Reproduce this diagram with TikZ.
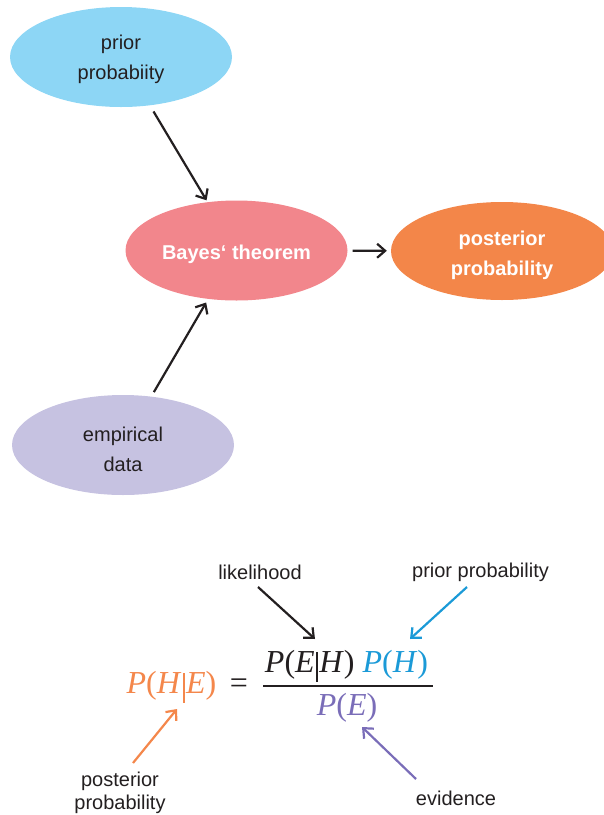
\documentclass[tikz,border=0pt]{standalone}
\usepackage{fontspec}
\setmainfont{Liberation Sans}
\newfontfamily\formfont{Liberation Serif}
\usetikzlibrary{arrows.meta,shapes.geometric,calc}
\definecolor{skyfill}{HTML}{8DD6F5}
\definecolor{pinkfill}{HTML}{F2868C}
\definecolor{orangefill}{HTML}{F38649}
\definecolor{lavfill}{HTML}{C6C2E1}
\definecolor{inkc}{HTML}{231F20}
\definecolor{formorange}{HTML}{F4874B}
\definecolor{formblue}{HTML}{1B9AD7}
\definecolor{formpurple}{HTML}{7A6DB8}
\newcommand\vit[1]{\textit{#1}}
\newcommand\vbar{\kern1.5pt\rule[-0.3em]{1.7pt}{0.93em}\kern1.5pt}
\newcommand\shiftlines[2]{\raisebox{-#1}[\height][\depth]{\begin{tabular}{@{}c@{}}#2\end{tabular}}}
\tikzset{
  blob/.style={ellipse, minimum width=222pt, minimum height=100pt, inner sep=0pt,
    align=center, font=\fontsize{20}{30}\selectfont, text=inkc},
  whiteblob/.style={blob, text=white, font=\fontsize{20}{30}\selectfont\bfseries},
  conn/.style={line width=2.2pt, draw=inkc, -{Straight Barb[length=8pt,width=14pt]}},
  lbl/.style={font=\fontsize{20}{24}\selectfont, text=inkc, align=center, inner sep=3pt},
  formtext/.style={font=\formfont\fontsize{32}{36}\selectfont, inner sep=0pt},
  pointer/.style={line width=2.2pt, -{Straight Barb[length=8pt,width=14pt]}}
}
\begin{document}
\begin{tikzpicture}[x=1pt,y=-1pt]
\useasboundingbox (0,0) rectangle (604,815);
% top diagram
\node[blob, fill=skyfill] (prior) at (121,57) {\shiftlines{1pt}{prior\\probabiity}};
\node[whiteblob, fill=pinkfill] (bayes) at (236.5,250.5) {\shiftlines{3pt}{Bayes‘ theorem}};
\node[whiteblob, fill=orangefill, minimum height=98pt] (post) at (502,251) {\shiftlines{3pt}{posterior\\probability}};
\node[blob, fill=lavfill] (emp) at (123,445) {\shiftlines{5pt}{empirical\\data}};
\draw[conn, shorten <=7pt, shorten >=2pt] (prior) -- (bayes);
\draw[conn, shorten <=5pt, shorten >=4pt] (emp) -- (bayes);
\draw[conn, shorten <=5pt, shorten >=4pt] (bayes) -- (post);
% formula
\node[formtext, text=formorange, anchor=base] (lhs) at (171.5,693)
  {\vit{P}(\vit{H}\vbar\vit{E})};
\node[formtext, text=inkc, anchor=base] (eq) at (239,693) {=};
\node[formtext, anchor=base] (num) at (346.5,672)
  {\textcolor{inkc}{\vit{P}(\vit{E}\vbar\vit{H})} \textcolor{formblue}{\vit{P}(\vit{H})}};
\node[formtext, text=formpurple, anchor=base] (den) at (347,715) {\vit{P}(\vit{E})};
\draw[line width=1.7pt, inkc] (263,686) -- (433,686);
% labels
\node[lbl] (lik) at (260,572) {likelihood};
\node[lbl] (prl) at (480.5,572) {prior probability};
\node[lbl, font=\fontsize{20}{23}\selectfont] (postl) at (120,793) {posterior\\probability};
\node[lbl] (evid) at (456,798) {evidence};
\coordinate (likend) at (315,639);
\coordinate (prlend) at (410,639);
\coordinate (postend) at (177,709);
\coordinate (evidend) at (362,727);
\draw[pointer, draw=inkc] ($(lik)+(-2,15)$) -- (likend);
\draw[pointer, draw=formblue] ($(prl)+(-13.5,15)$) -- (prlend);
\draw[pointer, draw=formorange] ($(postl)+(13,-30)$) -- (postend);
\draw[pointer, draw=formpurple] ($(evid)+(-40,-19)$) -- (evidend);
\end{tikzpicture}
\end{document}
